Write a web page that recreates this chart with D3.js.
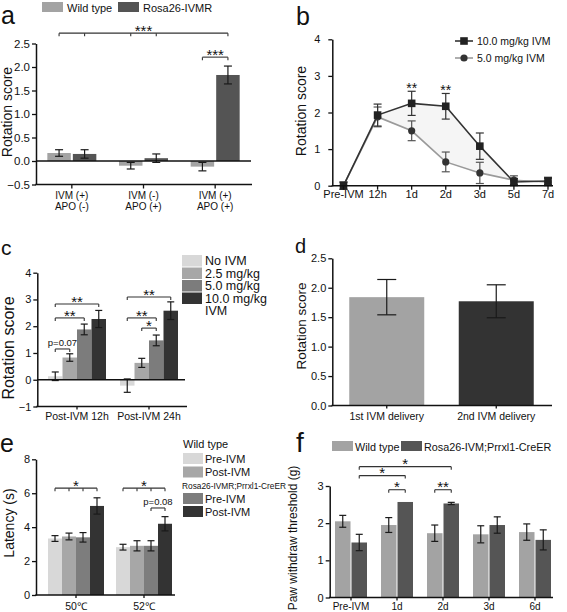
<!DOCTYPE html>
<html><head><meta charset="utf-8">
<script src="https://cdn.jsdelivr.net/npm/d3@7"></script>
<style>
body{margin:0;background:#fff;}
svg{display:block;}
text{font-family:Arial,'Liberation Sans',Helvetica,sans-serif;fill:#111;}
</style>
</head><body><svg id="chart" width="567" height="612"></svg>
<script>
// ================= DATA =================
// panel a
const aLine1 = ["IVM (+)", "IVM (-)", "IVM (+)"];
const aLine2 = ["APO (-)", "APO (+)", "APO (+)"];
const aSeries = ["Wild type", "Rosa26-IVMR"];
const aMeans = [[0.17, 0.15], [-0.10, 0.06], [-0.12, 1.83]];
const aErrs  = [[0.07, 0.09], [0.07, 0.09], [0.09, 0.19]];
const aTicks = [-0.5, 0, 0.5, 1.0, 1.5, 2.0, 2.5];
const aSig = [
  {from: [0, 0], to: [2, 1], mids: [[0, 1], [1, 0], [1, 1]], level: 2.72, label: "***"},
  {from: [2, 0], to: [2, 1], mids: [], level: 2.21, label: "***"}
];
// panel b
const bCategories = ["Pre-IVM", "12h", "1d", "2d", "3d", "5d", "7d"];
const bSeries = ["10.0 mg/kg IVM", "5.0 mg/kg IVM"];
const b10Means = [0, 1.93, 2.25, 2.17, 1.08, 0.10, 0.13];
const b10Errs  = [0.10, 0.30, 0.33, 0.35, 0.36, 0.10, 0.10];
const b5Means  = [0, 1.88, 1.50, 0.65, 0.35, 0.15, 0.10];
const b5Errs   = [0.10, 0.27, 0.27, 0.27, 0.29, 0.12, 0.10];
const bTicks = [0, 1, 2, 3, 4];
const bStars = [{cat: "1d", level: 2.75, label: "**"}, {cat: "2d", level: 2.69, label: "**"}];
// panel c
const cGroups = ["Post-IVM 12h", "Post-IVM 24h"];
const cSeries = ["No IVM", "2.5 mg/kg", "5.0 mg/kg", "10.0 mg/kg"];
const cMeans = [[0.13, 0.83, 1.88, 2.27], [-0.22, 0.63, 1.47, 2.58]];
const cErrs  = [[0.16, 0.14, 0.20, 0.32], [0.25, 0.17, 0.20, 0.33]];
const cTicks = [-1, 0, 1, 2, 3, 4];
const cSig = [
  {from: [0, 0], to: [0, 3], mids: [], level: 2.83, label: "**"},
  {from: [0, 0], to: [0, 2], mids: [], level: 2.31, label: "**"},
  {from: [0, 0], to: [0, 1], mids: [], level: 1.15, label: "p=0.07"},
  {from: [1, 0], to: [1, 3], mids: [], level: 3.09, label: "**"},
  {from: [1, 0], to: [1, 2], mids: [], level: 2.31, label: "**"},
  {from: [1, 1], to: [1, 2], mids: [], level: 1.93, label: "*"}
];
// panel d
const dCategories = ["1st IVM delivery", "2nd IVM delivery"];
const dMeans = [1.84, 1.77];
const dErrs  = [0.30, 0.28];
const dTicks = [0, 0.5, 1.0, 1.5, 2.0, 2.5];
// panel e
const eGroups = ["50℃", "52℃"];
const eGenotypes = ["Wild type", "Rosa26-IVMR;Prrxl1-CreER"];
const eSeries = ["Pre-IVM", "Post-IVM", "Pre-IVM", "Post-IVM"];
const eMeans = [[3.33, 3.45, 3.40, 5.25], [2.82, 2.90, 2.90, 4.20]];
const eErrs  = [[0.17, 0.20, 0.28, 0.48], [0.17, 0.30, 0.30, 0.42]];
const eTicks = [0, 2, 4, 6, 8];
const eSig = [
  {from: [0, 0], to: [0, 3], mids: [[0, 1], [0, 2]], level: 6.3, label: "*"},
  {from: [1, 0], to: [1, 3], mids: [[1, 1], [1, 2]], level: 6.3, label: "*"},
  {from: [1, 2], to: [1, 3], mids: [], level: 5.13, label: "p=0.08"}
];
// panel f
const fCategories = ["Pre-IVM", "1d", "2d", "3d", "6d"];
const fSeries = ["Wild type", "Rosa26-IVM;Prrxl1-CreER"];
const fMeans = [[2.05, 1.48], [1.95, 2.57], [1.73, 2.53], [1.70, 1.95], [1.76, 1.55]];
const fErrs  = [[0.16, 0.22], [0.20, 0.00], [0.22, 0.03], [0.23, 0.22], [0.22, 0.27]];
const fTicks = [0, 1, 2, 3];
const fSig = [
  {from: [0, 1], to: [2, 1], mids: [], level: 3.52, label: "*"},
  {from: [0, 1], to: [1, 1], mids: [], level: 3.28, label: "*"},
  {from: [1, 0], to: [1, 1], mids: [], level: 2.90, label: "*"},
  {from: [2, 0], to: [2, 1], mids: [], level: 2.90, label: "**"}
];

// ================= HELPERS =================
const svg = d3.select("#chart");
const INK = "#111";

function panelLetter(txt, x, y, size) {
  svg.append("text").attr("x", x).attr("y", y).attr("font-size", size).text(txt);
}
function yAxis(y, x, ticks, fmt, fs, pad) {
  const g = svg.append("g").attr("transform", `translate(${x},0)`)
    .call(d3.axisLeft(y).tickValues(ticks).tickFormat(fmt).tickSizeOuter(0).tickSizeInner(4).tickPadding(pad == null ? 2 : pad));
  g.attr("font-family", null).attr("font-size", null);
  g.select(".domain").attr("stroke", INK).attr("stroke-width", 1.5);
  g.selectAll(".tick line").attr("stroke", INK).attr("stroke-width", 1.3);
  g.selectAll(".tick text").attr("font-size", fs).attr("fill", INK);
  return g;
}
function hline(x1, x2, y, w) {
  svg.append("line").attr("x1", x1).attr("x2", x2).attr("y1", y).attr("y2", y)
    .attr("stroke", INK).attr("stroke-width", w || 1.5);
}
function xTicks(xs, y, len) {
  xs.forEach(x => svg.append("line").attr("x1", x).attr("x2", x).attr("y1", y).attr("y2", y + len)
    .attr("stroke", INK).attr("stroke-width", 1.3));
}
function yLabel(txt, x, y, fs) {
  svg.append("text").attr("transform", `translate(${x},${y}) rotate(-90)`)
    .attr("text-anchor", "middle").attr("font-size", fs).text(txt);
}
function errorBar(x, y, m, e, cap, color) {
  if (e <= 0) return;
  const g = svg.append("g").attr("stroke", color || "#1a1a1a").attr("stroke-width", 1.2);
  g.append("line").attr("x1", x).attr("x2", x).attr("y1", y(m - e)).attr("y2", y(m + e));
  g.append("line").attr("x1", x - cap / 2).attr("x2", x + cap / 2).attr("y1", y(m + e)).attr("y2", y(m + e));
  g.append("line").attr("x1", x - cap / 2).attr("x2", x + cap / 2).attr("y1", y(m - e)).attr("y2", y(m - e));
}
function bars(cfg) {
  const x0 = d3.scaleBand().domain(d3.range(cfg.groups.length)).range(cfg.groupRange);
  const x1 = d3.scaleBand().domain(d3.range(cfg.nSeries)).range([-cfg.half, cfg.half]).paddingInner(cfg.pad || 0);
  const gc = gi => x0(gi) + x0.bandwidth() / 2;
  const cx = (gi, si) => gc(gi) + x1(si) + x1.bandwidth() / 2;
  const y = cfg.y;
  const colorOf = cfg.colorOf || ((gi, si) => cfg.colors[si]);
  cfg.means.forEach((row, gi) => row.forEach((m, si) => {
    svg.append("rect").attr("x", gc(gi) + x1(si)).attr("width", x1.bandwidth())
      .attr("y", y(Math.max(m, 0))).attr("height", Math.abs(y(m) - y(0)))
      .attr("fill", colorOf(gi, si));
  }));
  cfg.means.forEach((row, gi) => row.forEach((m, si) => {
    errorBar(cx(gi, si), y, m, cfg.errs[gi][si], cfg.cap);
  }));
  return {x0, x1, gc, cx};
}
function sig(list, cx, y, starSize, txtSize) {
  list.forEach(s => {
    const xa = cx(s.from[0], s.from[1]), xb = cx(s.to[0], s.to[1]);
    const yy = y(s.level);
    const g = svg.append("g").attr("stroke", "#333").attr("stroke-width", 1.1).attr("fill", "none");
    g.append("line").attr("x1", xa).attr("x2", xb).attr("y1", yy).attr("y2", yy);
    [[s.from[0], s.from[1]], [s.to[0], s.to[1]]].concat(s.mids || []).forEach(p => {
      const xx = cx(p[0], p[1]);
      g.append("line").attr("x1", xx).attr("x2", xx).attr("y1", yy).attr("y2", yy + 3);
    });
    const isStar = /^\*+$/.test(s.label);
    svg.append("text").attr("x", (xa + xb) / 2)
      .attr("y", isStar ? yy + starSize * 0.58 - 6 : yy - 3)
      .attr("text-anchor", "middle").attr("font-size", isStar ? starSize : txtSize)
      .attr("fill", "#222").text(s.label);
  });
}
const fmt1 = d3.format(".1f"), fmt0 = d3.format("d");

// ================= PANEL A =================
{
  panelLetter("a", 1, 23.5, 25);
  const y = d3.scaleLinear().domain([-0.5, 2.5]).range([184.5, 43.5]);
  const colors = ["#a3a3a3", "#545454"];
  const lx = [42, 118];
  aSeries.forEach((s, i) => {
    svg.append("rect").attr("x", lx[i]).attr("y", 2).attr("width", 21).attr("height", 10).attr("fill", colors[i]);
    svg.append("text").attr("x", lx[i] + 25).attr("y", 11.5).attr("font-size", 11).text(s);
  });
  const b = bars({groups: aLine1, nSeries: 2, means: aMeans, errs: aErrs, colors,
    groupRange: [36, 251], half: 24.5, pad: 0.08, y, cap: 8});
  hline(36, 251, y(0), 1.4);
  hline(35.3, 252, 184.5, 1.5);
  xTicks(aLine1.map((d, i) => b.gc(i)), 184.5, 4);
  yAxis(y, 36, aTicks, fmt1, 11.5);
  aLine1.forEach((t, i) => {
    svg.append("text").attr("x", b.gc(i)).attr("y", 198.5).attr("text-anchor", "middle").attr("font-size", 10).text(t);
    svg.append("text").attr("x", b.gc(i)).attr("y", 210).attr("text-anchor", "middle").attr("font-size", 10).text(aLine2[i]);
  });
  yLabel("Rotation score", 12, 112, 14);
  sig(aSig, b.cx, y, 15, 10);
}

// ================= PANEL B =================
{
  panelLetter("b", 296, 25, 25);
  const y = d3.scaleLinear().domain([0, 4]).range([185.7, 39.3]);
  const x = d3.scalePoint().domain(bCategories).range([343.5, 548]);
  svg.append("path").datum(bCategories.map((c, i) => i))
    .attr("d", d3.area().x(i => x(bCategories[i])).y0(i => y(b5Means[i])).y1(i => y(b10Means[i])))
    .attr("fill", "#f5f5f5");
  const line = vals => d3.line().x((d, i) => x(bCategories[i])).y(d => y(d))(vals);
  svg.append("path").attr("d", line(b5Means)).attr("fill", "none").attr("stroke", "#9a9a9a").attr("stroke-width", 1.6);
  svg.append("path").attr("d", line(b10Means)).attr("fill", "none").attr("stroke", "#333").attr("stroke-width", 1.6);
  bCategories.forEach((c, i) => {
    errorBar(x(c), y, b5Means[i], b5Errs[i], 8, "#555");
    errorBar(x(c), y, b10Means[i], b10Errs[i], 8, "#333");
  });
  bCategories.forEach((c, i) => {
    svg.append("circle").attr("cx", x(c)).attr("cy", y(b5Means[i])).attr("r", 3.6).attr("fill", "#333");
    svg.append("rect").attr("x", x(c) - 3.8).attr("y", y(b10Means[i]) - 3.8).attr("width", 7.6).attr("height", 7.6).attr("fill", "#222");
  });
  hline(331.6, 553, 185.7, 1.5);
  xTicks(bCategories.map(c => x(c)), 185.7, 4);
  yAxis(y, 332.3, bTicks, fmt0, 11, 8);
  bCategories.forEach(c => svg.append("text").attr("x", x(c)).attr("y", 198).attr("text-anchor", "middle").attr("font-size", 11).text(c));
  yLabel("Rotation score", 306, 111, 14);
  bStars.forEach(s => svg.append("text").attr("x", x(s.cat)).attr("y", y(s.level) + 8)
    .attr("text-anchor", "middle").attr("font-size", 14).attr("fill", "#333").text(s.label));
  const ly = [41, 58];
  [["#333", "rect"], ["#9a9a9a", "circle"]].forEach((st, i) => {
    svg.append("line").attr("x1", 455).attr("x2", 473).attr("y1", ly[i]).attr("y2", ly[i]).attr("stroke", st[0]).attr("stroke-width", 1.6);
    if (st[1] === "rect") svg.append("rect").attr("x", 460.2).attr("y", ly[i] - 3.8).attr("width", 7.6).attr("height", 7.6).attr("fill", "#222");
    else svg.append("circle").attr("cx", 464).attr("cy", ly[i]).attr("r", 3.6).attr("fill", "#333");
    svg.append("text").attr("x", 477).attr("y", ly[i] + 3.8).attr("font-size", 10.5).text(bSeries[i]);
  });
}

// ================= PANEL C =================
{
  panelLetter("c", 1, 255, 21);
  const y = d3.scaleLinear().domain([-1, 4]).range([406.5, 272.7]);
  const colors = ["#d8d8d8", "#a7a7a7", "#7c7c7c", "#333333"];
  const b = bars({groups: cGroups, nSeries: 4, means: cMeans, errs: cErrs, colors,
    groupRange: [41, 185], half: 29, pad: 0, y, cap: 7});
  hline(37, 185, y(0), 1.4);
  hline(36.3, 187, 406.5, 1.5);
  xTicks(cGroups.map((d, i) => b.gc(i)), 406.5, 3);
  yAxis(y, 37.3, cTicks, fmt0, 11);
  cGroups.forEach((t, i) => svg.append("text").attr("x", b.gc(i)).attr("y", 420).attr("text-anchor", "middle").attr("font-size", 10.5).text(t));
  yLabel("Rotation score", 14, 348, 16);
  sig(cSig, b.cx, y, 15, 9.5);
  const ry = [255, 267.5, 280, 292.5];
  cSeries.forEach((s, i) => {
    svg.append("rect").attr("x", 182).attr("y", ry[i]).attr("width", 20).attr("height", 11.5).attr("fill", colors[i]);
    svg.append("text").attr("x", 205).attr("y", ry[i] + 10).attr("font-size", 12.5).text(s);
  });
  svg.append("text").attr("x", 205).attr("y", 315).attr("font-size", 12.5).text("IVM");
}

// ================= PANEL D =================
{
  panelLetter("d", 295, 253, 20);
  const y = d3.scaleLinear().domain([0, 2.5]).range([405.5, 258.3]);
  const dColors = ["#a3a3a3", "#333333"];
  const b = bars({groups: dCategories, nSeries: 1, means: dMeans.map(v => [v]), errs: dErrs.map(v => [v]),
    colors: dColors, colorOf: (gi) => dColors[gi], groupRange: [332, 551], half: 37.5, pad: 0, y, cap: 19});
  hline(331.5, 552, 405.5, 1.5);
  xTicks(dCategories.map((d, i) => b.gc(i)), 405.5, 3);
  yAxis(y, 332.3, dTicks, fmt1, 11);
  dCategories.forEach((t, i) => svg.append("text").attr("x", b.gc(i)).attr("y", 419.5).attr("text-anchor", "middle").attr("font-size", 10.5).text(t));
  yLabel("Rotation score", 306, 326, 13.5);
}

// ================= PANEL E =================
{
  panelLetter("e", 0, 452, 25);
  const y = d3.scaleLinear().domain([0, 8]).range([595, 459.3]);
  const colors = ["#d8d8d8", "#a7a7a7", "#7d7d7d", "#333333"];
  const b = bars({groups: eGroups, nSeries: 4, means: eMeans, errs: eErrs, colors,
    groupRange: [42, 178], half: 28, pad: 0, y, cap: 7});
  hline(35.3, 175, 595, 1.5);
  xTicks(eGroups.map((d, i) => b.gc(i)), 595, 3);
  yAxis(y, 36, eTicks, fmt0, 11);
  eGroups.forEach((t, i) => svg.append("text").attr("x", b.gc(i)).attr("y", 610).attr("text-anchor", "middle").attr("font-size", 10.5).text(t));
  yLabel("Latency (s)", 14, 523, 14);
  sig(eSig, b.cx, y, 15, 9.5);
  svg.append("text").attr("x", 183).attr("y", 448).attr("font-size", 11).text(eGenotypes[0]);
  svg.append("text").attr("x", 182).attr("y", 489).attr("font-size", 9.4)
    .attr("textLength", 104).attr("lengthAdjust", "spacingAndGlyphs").text(eGenotypes[1]);
  const ry = [453, 466.5, 493, 506];
  eSeries.forEach((s, i) => {
    svg.append("rect").attr("x", 183).attr("y", ry[i]).attr("width", 20).attr("height", 11).attr("fill", colors[i]);
    svg.append("text").attr("x", 205).attr("y", ry[i] + 9.5).attr("font-size", 11).text(s);
  });
}

// ================= PANEL F =================
{
  panelLetter("f", 296, 452, 28);
  const y = d3.scaleLinear().domain([0, 3]).range([597.5, 486]);
  const colors = ["#a3a3a3", "#555555"];
  const b = bars({groups: fCategories, nSeries: 2, means: fMeans, errs: fErrs, colors,
    groupRange: [328, 558], half: 16, pad: 0.06, y, cap: 7});
  hline(329, 553, 597.5, 1.5);
  xTicks(fCategories.map((d, i) => b.gc(i)), 597.5, 3);
  yAxis(y, 329.7, fTicks, fmt0, 11);
  fCategories.forEach((t, i) => svg.append("text").attr("x", b.gc(i)).attr("y", 610).attr("text-anchor", "middle").attr("font-size", 10).text(t));
  yLabel("Paw withdraw threshold (g)", 296.5, 538, 12);
  sig(fSig, b.cx, y, 15, 9.5);
  const lx = [332, 401];
  fSeries.forEach((s, i) => {
    svg.append("rect").attr("x", lx[i]).attr("y", 441).attr("width", 21).attr("height", 10).attr("fill", colors[i]);
    svg.append("text").attr("x", lx[i] + 23).attr("y", 450.5).attr("font-size", 10.8).text(s);
  });
}
</script>
</body></html>
